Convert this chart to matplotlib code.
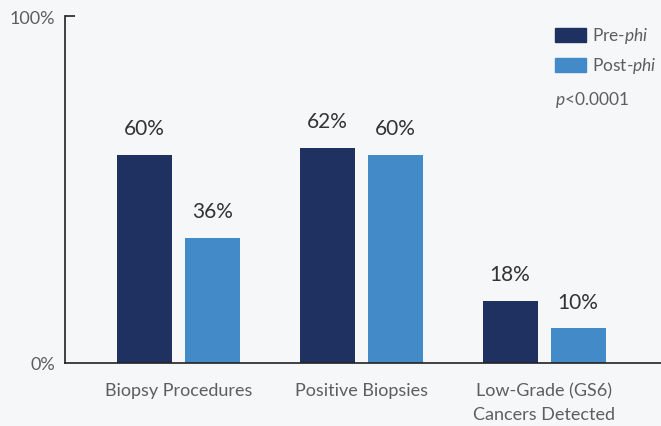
import matplotlib
matplotlib.use("Agg")
import matplotlib.pyplot as plt
import matplotlib.transforms as mtransforms
import numpy as np
from matplotlib.patches import Rectangle

categories = ["Biopsy Procedures", "Positive Biopsies", "Low-Grade (GS6)\nCancers Detected"]
pre_phi = [60, 62, 18]
post_phi = [36, 60, 10]
series_names = ["Pre-", "Post-"]
y_tick_labels = ["0%", "100%"]

dark = "#1f3161"
light = "#438ac8"
bg = "#f6f7f9"
grey = "#5e5e5e"

plt.rcParams['font.family'] = ['Lato', 'DejaVu Sans']
plt.rcParams['mathtext.fontset'] = 'custom'
plt.rcParams['mathtext.it'] = 'Lato:italic'
plt.rcParams['mathtext.rm'] = 'Lato'

fig = plt.figure(figsize=(6.61, 4.27), dpi=100, facecolor=bg)
ax = fig.add_axes([65/661, 63/427, 596/661, 347/427])
ax.set_facecolor(bg)

x = np.arange(len(categories))
w = 0.301
off = 0.186
b1 = ax.bar(x - off, pre_phi, w, color=dark)
b2 = ax.bar(x + off, post_phi, w, color=light)

for bars, vals in ((b1, pre_phi), (b2, post_phi)):
    for r, v in zip(bars, vals):
        ax.annotate(f"{v}%", (r.get_x() + r.get_width()/2, v), xytext=(0, 12),
                    textcoords="offset points", ha="center", va="bottom",
                    fontsize=15, color="#333333")

ax.set_xlim(-0.621, 2.640)
ax.set_ylim(0, 100)
ax.set_xticks(x)
ax.set_xticklabels(categories, fontsize=13, color=grey, linespacing=1.6)
shift = mtransforms.ScaledTranslation(6/100, 0, fig.dpi_scale_trans)
for lab in ax.get_xticklabels():
    lab.set_transform(lab.get_transform() + shift)
ax.set_yticks([0, 100])
ax.set_yticklabels(y_tick_labels, fontsize=13, color=grey)
ax.tick_params(axis='x', length=0, pad=14)
ax.tick_params(axis='y', length=0, pad=7)
for s in ("top", "right"):
    ax.spines[s].set_visible(False)
ax.spines["left"].set_color("#222222")
ax.spines["bottom"].set_color("#222222")
ax.spines["left"].set_linewidth(1.2)
ax.spines["bottom"].set_linewidth(1.2)
# top tick mark at 100%
ax.plot([-0.621, -0.621 + 10/182.75], [100, 100], color="#222222", lw=1.2,
        clip_on=False, solid_capstyle="butt")

# legend
fig.patches.append(Rectangle((555/661, 1-43/427), 31/661, 14/427, transform=fig.transFigure, color=dark))
fig.patches.append(Rectangle((555/661, 1-73/427), 31/661, 14/427, transform=fig.transFigure, color=light))
fig.text(592/661, 1-36/427, series_names[0] + r"$\it{phi}$", fontsize=12.5, color=grey,
         va="center", ha="left")
fig.text(592/661, 1-66/427, series_names[1] + r"$\it{phi}$", fontsize=12.5, color=grey,
         va="center", ha="left")
fig.text(555/661, 1-100/427, r"$\it{p}$<0.0001", fontsize=12.5, color=grey,
         va="center", ha="left")

fig.savefig("out.png", dpi=100, facecolor=bg)
